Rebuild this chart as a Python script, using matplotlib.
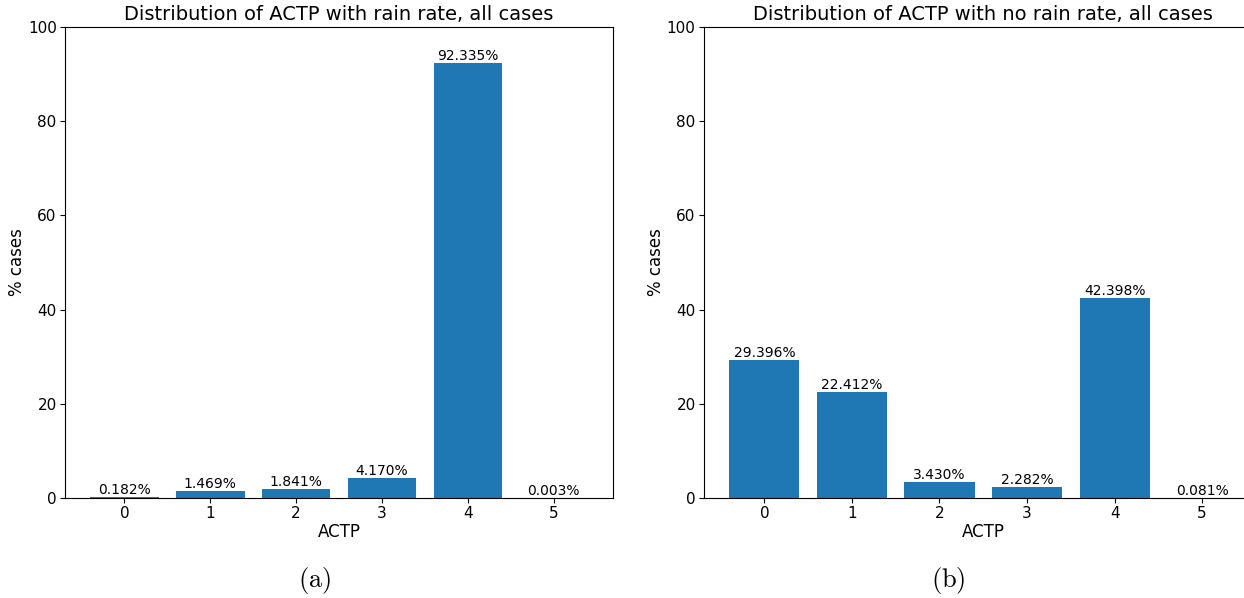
import matplotlib.pyplot as plt

actp = [0, 1, 2, 3, 4, 5]
rain_pct = [0.182, 1.469, 1.841, 4.170, 92.335, 0.003]
norain_pct = [29.396, 22.412, 3.430, 2.282, 42.398, 0.081]

titles = ["Distribution of ACTP with rain rate, all cases",
          "Distribution of ACTP with no rain rate, all cases"]

plt.rcParams.update({"font.size": 12, "mathtext.fontset": "cm"})

fig = plt.figure(figsize=(12.44, 5.98), dpi=100)
ax1 = fig.add_axes([0.0523, 0.1672, 0.4405, 0.7876])
ax2 = fig.add_axes([0.5659, 0.1672, 0.449, 0.7876])

for ax, vals, title in zip([ax1, ax2], [rain_pct, norain_pct], titles):
    ax.bar(actp, vals, color="#1f77b4", width=0.8)
    for x, v in zip(actp, vals):
        ax.text(x, v, f"{v:.3f}%", ha="center", va="bottom", fontsize=10)
    ax.set_ylim(0, 100)
    ax.set_xticks(actp)
    ax.tick_params(labelsize=11, pad=2.5)
    ax.set_title(title, fontsize=14, pad=5)
    ax.set_xlabel("ACTP", fontsize=12, labelpad=1)
    ax.set_ylabel("% cases", fontsize=12, labelpad=1)

fig.text(0.253, 0.03, r"$\mathrm{(a)}$", ha="center", va="center", fontsize=19)
fig.text(0.762, 0.03, r"$\mathrm{(b)}$", ha="center", va="center", fontsize=19)

fig.savefig("out.png", dpi=100)
